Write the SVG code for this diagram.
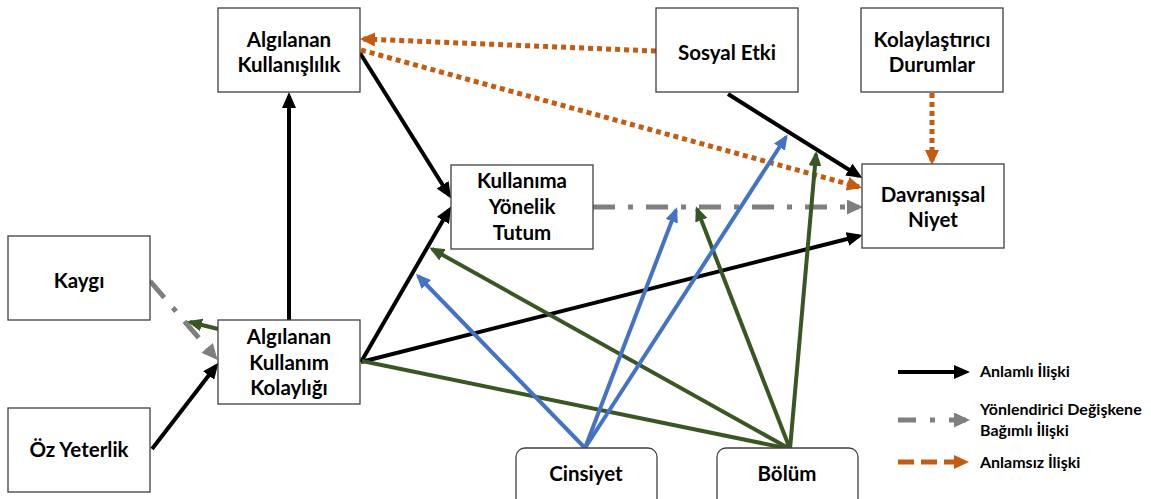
<svg xmlns="http://www.w3.org/2000/svg" width="1151" height="499" viewBox="0 0 1151 499">
  <style>
    .box { fill: #ffffff; stroke: #3f3f3f; stroke-width: 1.3; }
    .lbl { font-family: Lato, "Open Sans", "Liberation Sans", sans-serif; font-weight: bold; font-size: 20.5px; fill: #000000; text-anchor: middle; }
    .leg { font-family: Lato, "Open Sans", "Liberation Sans", sans-serif; font-weight: bold; font-size: 16px; fill: #000000; }
    .sig { stroke: #000000; stroke-width: 4; fill: none; marker-end: url(#ah-black); }
    .mod { stroke: #7f7f7f; stroke-width: 5; fill: none; marker-end: url(#ah-gray); }
    .ns { stroke: #c55a11; stroke-width: 5; fill: none; marker-end: url(#ah-orange); }
    .grn { stroke: #385723; stroke-width: 4; fill: none; }
    .blu { stroke: #4472c4; stroke-width: 4; fill: none; marker-end: url(#ah-blue); }
  </style>
  <defs>
    <marker id="ah-black" markerUnits="userSpaceOnUse" viewBox="0 0 16 14" refX="12" refY="7" markerWidth="16" markerHeight="14" orient="auto">
      <path d="M0,0 L16,7 L0,14 z" fill="#000000"/>
    </marker>
    <marker id="ah-gray" markerUnits="userSpaceOnUse" viewBox="0 0 16 15" refX="12" refY="7.5" markerWidth="16" markerHeight="15" orient="auto">
      <path d="M0,0 L16,7.5 L0,15 z" fill="#7f7f7f"/>
    </marker>
    <marker id="ah-orange" markerUnits="userSpaceOnUse" viewBox="0 0 15 14" refX="12" refY="7" markerWidth="15" markerHeight="14" orient="auto">
      <path d="M0,0 L15,7 L0,14 z" fill="#c55a11"/>
    </marker>
    <marker id="ah-green" markerUnits="userSpaceOnUse" viewBox="0 0 15 13" refX="12" refY="6.5" markerWidth="15" markerHeight="13" orient="auto">
      <path d="M0,0 L15,6.5 L0,13 z" fill="#385723"/>
    </marker>
    <marker id="ah-blue" markerUnits="userSpaceOnUse" viewBox="0 0 15 13" refX="12" refY="6.5" markerWidth="15" markerHeight="13" orient="auto">
      <path d="M0,0 L15,6.5 L0,13 z" fill="#4472c4"/>
    </marker>
  </defs>

  <rect width="1151" height="499" fill="#ffffff"/>

  <!-- connectors -->
  <g id="connectors">
    <!-- significant paths -->
    <line class="sig" x1="289" y1="320" x2="289" y2="96"/>
    <line class="sig" x1="360" y1="53" x2="449" y2="195"/>
    <line class="sig" x1="361" y1="362" x2="449" y2="210"/>
    <line class="sig" x1="361" y1="362" x2="859" y2="236"/>
    <line class="sig" x1="728" y1="94" x2="859" y2="176"/>
    <line class="sig" x1="152" y1="449" x2="216" y2="366"/>

    <!-- moderator to dependent paths (dash-dot) -->
    <line class="mod" x1="593" y1="207" x2="859" y2="207" stroke-dasharray="22 13 5 13"/>
    <line class="mod" x1="150" y1="281" x2="215" y2="357" stroke-dasharray="22 13 5 13"/>

    <!-- non-significant paths (dotted) -->
    <line class="ns" x1="656" y1="51" x2="363" y2="39" stroke-dasharray="5 4"/>
    <line class="ns" x1="361" y1="50" x2="859" y2="187" stroke-dasharray="5 4"/>
    <line class="ns" x1="932" y1="93" x2="932" y2="162" stroke-dasharray="5 4"/>

    <!-- Bölüm moderation -->
    <line class="grn" x1="790" y1="449" x2="362" y2="361"/>
    <line class="grn" x1="218" y1="329" x2="190" y2="322" marker-end="url(#ah-green)"/>
    <line class="grn" x1="790" y1="449" x2="432" y2="249" marker-end="url(#ah-green)"/>
    <line class="grn" x1="790" y1="449" x2="697" y2="209" marker-end="url(#ah-green)"/>
    <line class="grn" x1="790" y1="449" x2="816" y2="154" marker-end="url(#ah-green)"/>

    <!-- Cinsiyet moderation -->
    <line class="blu" x1="585" y1="448" x2="418" y2="276"/>
    <line class="blu" x1="585" y1="448" x2="676" y2="210"/>
    <line class="blu" x1="585" y1="448" x2="786" y2="137"/>
  </g>

  <!-- nodes -->
  <g id="algilanan-kullanislilik">
    <rect class="box" x="218" y="8" width="142" height="84"/>
    <text class="lbl" x="289" y="47">Algılanan</text>
    <text class="lbl" x="289" y="72">Kullanışlılık</text>
  </g>
  <g id="sosyal-etki">
    <rect class="box" x="656" y="8" width="142" height="84"/>
    <text class="lbl" x="727" y="60">Sosyal Etki</text>
  </g>
  <g id="kolaylastirici-durumlar">
    <rect class="box" x="861" y="8" width="142" height="84"/>
    <text class="lbl" x="932" y="47">Kolaylaştırıcı</text>
    <text class="lbl" x="932" y="72">Durumlar</text>
  </g>
  <g id="kullanima-yonelik-tutum">
    <rect class="box" x="451" y="165" width="142" height="84"/>
    <text class="lbl" x="522" y="188">Kullanıma</text>
    <text class="lbl" x="522" y="214">Yönelik</text>
    <text class="lbl" x="522" y="240">Tutum</text>
  </g>
  <g id="davranissal-niyet">
    <rect class="box" x="862" y="164" width="142" height="84"/>
    <text class="lbl" x="933" y="202">Davranışsal</text>
    <text class="lbl" x="933" y="227">Niyet</text>
  </g>
  <g id="kaygi">
    <rect class="box" x="8" y="236" width="142" height="84"/>
    <text class="lbl" x="79" y="288">Kaygı</text>
  </g>
  <g id="algilanan-kullanim-kolayligi">
    <rect class="box" x="218" y="320" width="142" height="84"/>
    <text class="lbl" x="289" y="344">Algılanan</text>
    <text class="lbl" x="289" y="370">Kullanım</text>
    <text class="lbl" x="289" y="395">Kolaylığı</text>
  </g>
  <g id="oz-yeterlik">
    <rect class="box" x="8" y="408" width="142" height="84"/>
    <text class="lbl" x="79" y="457">Öz Yeterlik</text>
  </g>
  <g id="cinsiyet">
    <rect class="box" x="516" y="448" width="141" height="62" rx="9"/>
    <text class="lbl" x="586" y="481">Cinsiyet</text>
  </g>
  <g id="bolum">
    <rect class="box" x="717" y="448" width="141" height="62" rx="9"/>
    <text class="lbl" x="787" y="481">Bölüm</text>
  </g>

  <!-- legend -->
  <g id="legend">
    <line class="sig" x1="898" y1="372" x2="966" y2="372"/>
    <text class="leg" x="980" y="377">Anlamlı İlişki</text>
    <line class="mod" x1="898" y1="420" x2="966" y2="420" stroke-dasharray="18 14 5 14"/>
    <text class="leg" x="980" y="415">Yönlendirici Değişkene</text>
    <text class="leg" x="980" y="436">Bağımlı İlişki</text>
    <line class="ns" x1="898" y1="462" x2="966" y2="462" stroke-dasharray="16 7"/>
    <text class="leg" x="980" y="468">Anlamsız İlişki</text>
  </g>
</svg>
